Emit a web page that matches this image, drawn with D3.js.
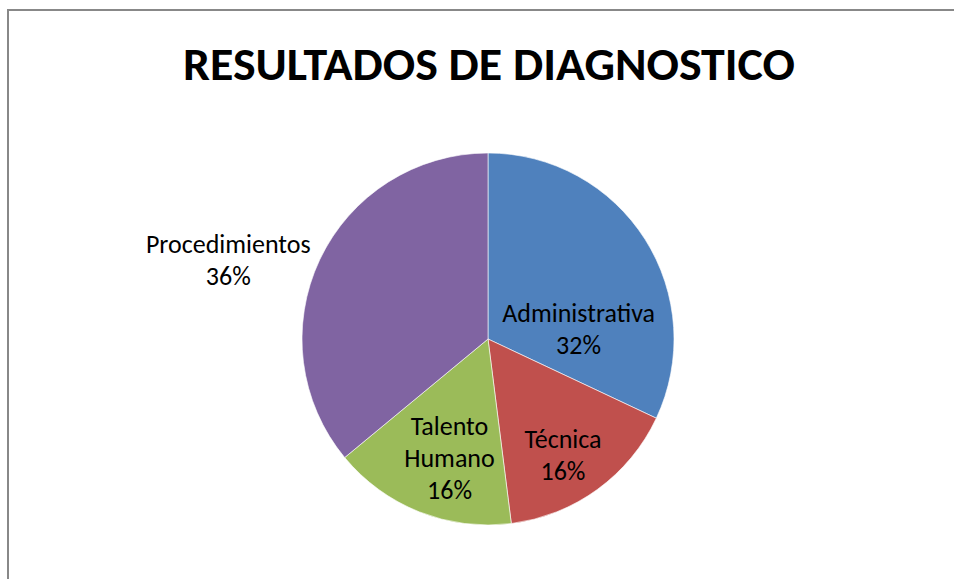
<!DOCTYPE html>
<html>
<head>
<meta charset="utf-8">
<script src="https://cdn.jsdelivr.net/npm/d3@7"></script>
<style>
  html, body { margin: 0; padding: 0; background: #fff; }
  svg { display: block; }
  text { font-family: Calibri, Carlito, "Open Sans", sans-serif; fill: #000; }
</style>
</head>
<body>
<svg id="chart" width="954" height="579"></svg>
<script>
const categories = ["Administrativa", "Técnica", "Talento Humano", "Procedimientos"];
const values = [32, 16, 16, 36];
const colours = ["#4F81BD", "#C0504D", "#9BBB59", "#8064A2"];
const title = "RESULTADOS DE DIAGNOSTICO";

const width = 954, height = 579;
const cx = 488, cy = 339, radius = 186;

// where Excel "best fit" put each label: angle (deg from top, clockwise), distance as share of radius
const labelAt = [[83.7, 0.49], [147, 0.74], [198, 0.67], [287, 1.46]];
const lineGap = 32;

const svg = d3.select("#chart");

// chart area border (only top and left edges fall in the picture)
svg.append("path")
    .attr("d", `M8,${height} V10 H${width}`)
    .attr("fill", "none")
    .attr("stroke", "#888")
    .attr("stroke-width", 2);

svg.append("text")
    .attr("x", 489)
    .attr("y", 80)
    .attr("text-anchor", "middle")
    .attr("font-size", 47)
    .attr("font-weight", "bold")
    .attr("textLength", 612)
    .attr("lengthAdjust", "spacingAndGlyphs")
    .text(title);

const pie = d3.pie().sort(null).value(d => d.value);
const arc = d3.arc().innerRadius(0).outerRadius(radius);

const slices = pie(categories.map((c, i) => ({ name: c, value: values[i], colour: colours[i] })));
const total = d3.sum(values);

const g = svg.append("g").attr("transform", `translate(${cx}, ${cy})`);

g.selectAll(".slice")
    .data(slices)
    .join("path")
    .attr("class", "slice")
    .attr("d", arc)
    .attr("fill", d => d.data.colour)
    .attr("stroke", "#fff")
    .attr("stroke-width", 0.6);

const labels = g.selectAll(".label")
    .data(slices)
    .join("text")
    .attr("class", "label")
    .attr("text-anchor", "middle")
    .attr("font-size", 26)
    .attr("transform", (d, i) => {
        const a = labelAt[i][0] * Math.PI / 180;
        const r = labelAt[i][1] * radius;
        return `translate(${r * Math.sin(a)}, ${-r * Math.cos(a)})`;
    });

labels.each(function(d) {
    const lines = d.data.name.split(" ");
    lines.push(Math.round(d.data.value / total * 100) + "%");
    const t = d3.select(this);
    const offset = -(lines.length - 1) * lineGap / 2;
    lines.forEach((line, j) => {
        t.append("tspan")
            .attr("x", 0)
            .attr("y", offset + j * lineGap)
            .attr("dy", "0.35em")
            .text(line);
    });
});
</script>
</body>
</html>
